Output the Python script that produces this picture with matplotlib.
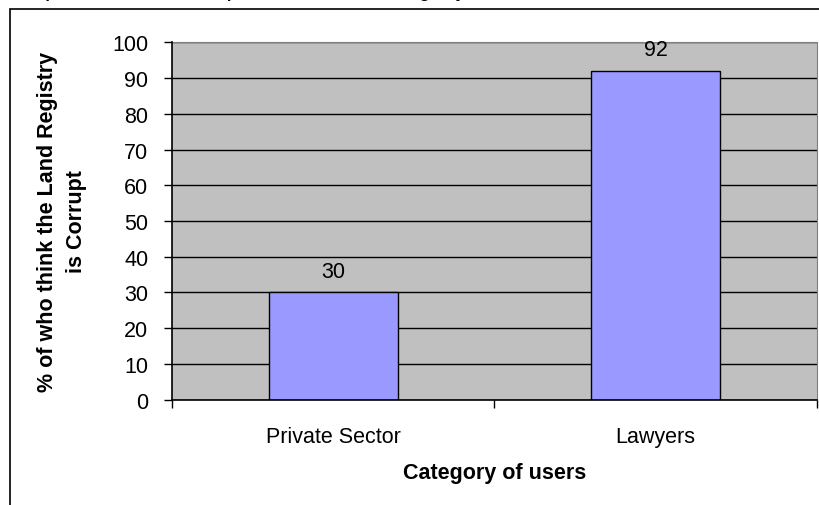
import matplotlib
matplotlib.use("Agg")
import matplotlib.pyplot as plt
from matplotlib.patches import Rectangle

plt.rcParams["font.family"] = ["Liberation Sans", "DejaVu Sans"]

categories = ["Private Sector", "Lawyers"]
values = [30, 92]
y_ticks = list(range(0, 101, 10))
title = "Perception of users on corruption within the Land Registry"
x_label = "Category of users"
y_label = "% of who think the Land Registry\nis Corrupt"

W, H = 820, 506
FS = 15.5
fig = plt.figure(figsize=(W / 100, H / 100), dpi=100)

# chart border (runs off the right and bottom edges)
fig.patches.append(Rectangle((10 / W, -0.1), 1.2, 1 - 10 / H + 0.1, transform=fig.transFigure,
                             fill=False, edgecolor="black", linewidth=1.2))
# title sits above the top edge, only its descenders show
fig.text(0, 1 + 1.5 / H, title, fontsize=12, fontweight="bold", va="baseline", ha="left")

ax = fig.add_axes([172 / W, (H - 400.7) / H, (817 - 172) / W, (400.7 - 43.3) / H])
ax.set_facecolor("#C0C0C0")
x = range(len(categories))
ax.bar(x, values, width=0.4, color="#9999FF", edgecolor="black", linewidth=1, zorder=3)
for xi, v in zip(x, values):
    ax.text(xi, v + 6, str(v), ha="center", va="center", fontsize=FS, zorder=4)

ax.set_xlim(-0.5, len(categories) - 0.5)
ax.set_ylim(0, 100)
ax.set_yticks(y_ticks)
ax.tick_params(axis="y", direction="out", length=6, width=1, labelsize=FS, pad=11)
ax.set_xticks([i - 0.5 for i in range(len(categories) + 1)])
ax.set_xticklabels([])
ax.set_xticks(list(x), minor=True)
ax.set_xticklabels(categories, minor=True, fontsize=FS)
ax.tick_params(axis="x", which="major", direction="out", length=6, width=1)
ax.tick_params(axis="x", which="minor", length=0, pad=19)

ax.yaxis.grid(True, color="black", linewidth=1, zorder=1)
ax.set_axisbelow(True)
for side in ["top", "right"]:
    ax.spines[side].set_color("#808080")
for side in ["left", "bottom"]:
    ax.spines[side].set_color("black")
    ax.spines[side].set_linewidth(1.2)
    ax.spines[side].set_zorder(5)

ax.set_xlabel(x_label, fontsize=FS, fontweight="bold", va="center")
ax.xaxis.set_label_coords(0.5, -(474 - 400.7) / 357.4)
ax.set_ylabel(y_label, fontsize=FS, fontweight="bold", va="center", linespacing=1.5)
ax.yaxis.set_label_coords(-(172 - 62) / 645, 0.5)

fig.savefig("out.png", dpi=100)
